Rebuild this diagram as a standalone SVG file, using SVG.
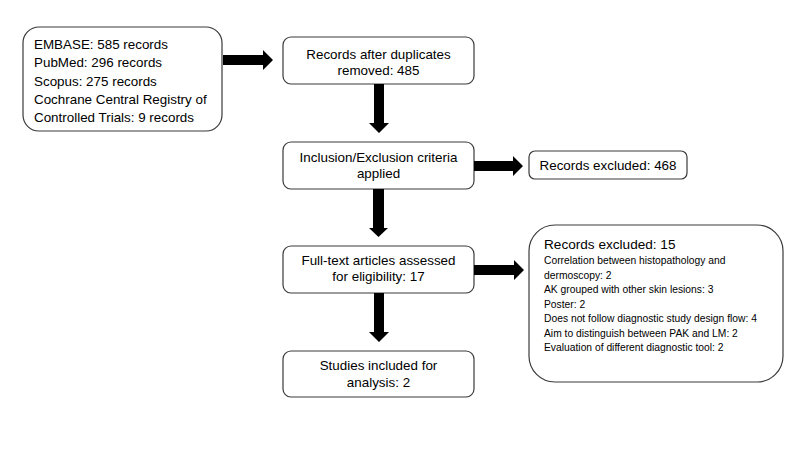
<svg xmlns="http://www.w3.org/2000/svg" width="800" height="450" viewBox="0 0 800 450">
<style>
.box{fill:#fff;stroke:#3a3a3a;stroke-width:1.2}
.t{font-family:"Liberation Sans",Arial,sans-serif;font-size:13.4px;fill:#000}
.c{text-anchor:middle}
.s{font-family:"Liberation Sans",Arial,sans-serif;font-size:10.3px;fill:#000}
.arr{fill:#000}
</style>
<rect width="800" height="450" fill="#fff"/>
<g id="sources">
<rect class="box" x="23" y="27" width="199" height="104" rx="16"/>
<text class="t" x="34" y="49">EMBASE: 585 records</text>
<text class="t" x="34" y="67.3">PubMed: 296 records</text>
<text class="t" x="34" y="85.5">Scopus: 275 records</text>
<text class="t" x="34" y="103.8">Cochrane Central Registry of</text>
<text class="t" x="34" y="122">Controlled Trials: 9 records</text>
</g>
<g id="dedup">
<rect class="box" x="283" y="37" width="191" height="47" rx="8"/>
<text class="t c" x="378.5" y="58.5">Records after duplicates</text>
<text class="t c" x="378.5" y="75">removed: 485</text>
</g>
<g id="criteria">
<rect class="box" x="283" y="142" width="191" height="47" rx="8"/>
<text class="t c" x="378.5" y="161.7">Inclusion/Exclusion criteria</text>
<text class="t c" x="378.5" y="177.7">applied</text>
</g>
<g id="excluded468">
<rect class="box" x="529" y="151" width="158" height="28" rx="6"/>
<text class="t c" x="608" y="170">Records excluded: 468</text>
</g>
<g id="fulltext">
<rect class="box" x="283" y="246" width="191" height="47" rx="8"/>
<text class="t c" x="378.5" y="265">Full-text articles assessed</text>
<text class="t c" x="378.5" y="281">for eligibility: 17</text>
</g>
<g id="excluded15">
<rect class="box" x="529" y="225" width="254" height="157" rx="26"/>
<text class="t" x="544" y="249.3" style="font-size:13.6px">Records excluded: 15</text>
<text class="s" x="544" y="264.3">Correlation between histopathology and</text>
<text class="s" x="544" y="278.8">dermoscopy: 2</text>
<text class="s" x="544" y="293.3">AK grouped with other skin lesions: 3</text>
<text class="s" x="544" y="307.8">Poster: 2</text>
<text class="s" x="544" y="322.3">Does not follow diagnostic study design flow: 4</text>
<text class="s" x="544" y="336.8">Aim to distinguish between PAK and LM: 2</text>
<text class="s" x="544" y="351.3">Evaluation of different diagnostic tool: 2</text>
</g>
<g id="included">
<rect class="box" x="283" y="351" width="191" height="46" rx="8"/>
<text class="t c" x="378.5" y="370">Studies included for</text>
<text class="t c" x="378.5" y="386.7">analysis: 2</text>
</g>
<g id="connectors">
<polygon class="arr" points="223,55 263,55 263,50 273,60 263,70 263,65 223,65"/>
<polygon class="arr" points="374,84 384,84 384,123 389,123 379,133 369,123 374,123"/>
<polygon class="arr" points="474,161 513,161 513,156 523,166 513,176 513,171 474,171"/>
<polygon class="arr" points="373,189 384,189 384,228 388,228 378.5,237 369,228 373,228"/>
<polygon class="arr" points="474,265 514,265 514,260 524,270 514,280 514,275 474,275"/>
<polygon class="arr" points="374,293 384,293 384,332 389,332 379,342 369,332 374,332"/>
</g>
</svg>
